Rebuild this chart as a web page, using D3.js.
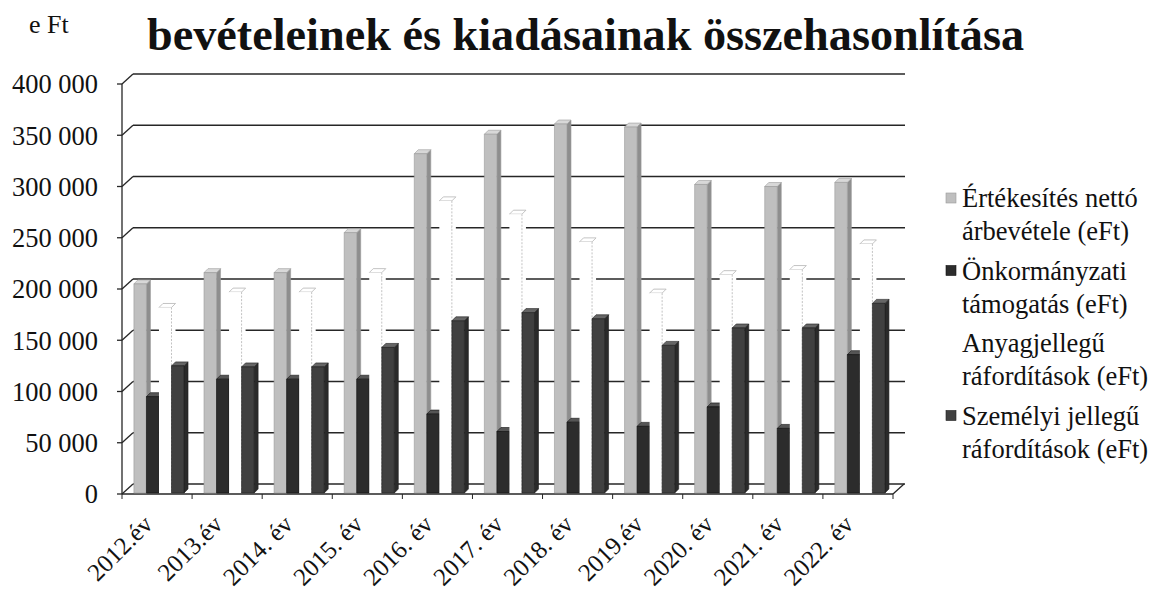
<!DOCTYPE html>
<html>
<head>
<meta charset="utf-8">
<script src="https://cdn.jsdelivr.net/npm/d3@7"></script>
<style>
  html, body { margin: 0; padding: 0; background: #fff; }
  svg { display: block; }
  text { font-family: "Liberation Serif", "Times New Roman", serif; fill: #111; }
</style>
</head>
<body>
<svg id="chart" width="1153" height="597"></svg>
<script>
// ---- data ----
const categories = ["2012.év", "2013.év", "2014. év", "2015. év", "2016. év", "2017. év",
                    "2018. év", "2019.év", "2020. év", "2021. év", "2022. év"];
const seriesNames = ["Értékesítés nettó árbevétele (eFt)", "Önkormányzati támogatás (eFt)",
                     "Anyagjellegű ráfordítások (eFt)", "Személyi jellegű ráfordítások (eFt)"];
const legendLines = [["Értékesítés nettó", "árbevétele (eFt)"], ["Önkormányzati", "támogatás (eFt)"],
                     ["Anyagjellegű", "ráfordítások (eFt)"], ["Személyi jellegű", "ráfordítások (eFt)"]];
const arbevetel   = [204000, 215000, 215000, 254000, 331000, 350000, 360000, 357000, 301000, 299000, 303000];
const tamogatas   = [94000, 111000, 111000, 111000, 77000, 60000, 69000, 65000, 84000, 63000, 135000];
const anyag       = [181000, 196000, 196000, 215000, 285000, 272000, 245000, 195000, 213000, 218000, 243000];
const szemelyi    = [124000, 123000, 123000, 142000, 168000, 176000, 170000, 144000, 161000, 161000, 185000];
const yTicks = [0, 50000, 100000, 150000, 200000, 250000, 300000, 350000, 400000];
const titleText = "bevételeinek és kiadásainak összehasonlítása";
const unitText = "e Ft";

const seriesValues = [arbevetel, tamogatas, anyag, szemelyi];
const fronts = ["#bfbfbf", "#2c2c2c", "#ffffff", "#404040"];
const sides  = ["#8e8e8e", "#1a1a1a", "#ffffff", "#2a2a2a"];
const tops   = ["#d8d8d8", "#555555", "#ffffff", "#666666"];
const strokes = ["#9a9a9a", "#111111", "#b4b4b4", "#1e1e1e"];

// ---- layout ----
const svg = d3.select("#chart");
const DX = 11, DY = 10;        // wall depth offset
const BD = 4;                  // bar depth
const yBack = d3.scaleLinear().domain([0, 400000]).range([484, 74]);
const yFront = v => yBack(v) + DY;
const x0 = d3.scaleBand().domain(categories).range([122, 893]).padding(0);
const bw = x0.bandwidth();
const x1 = d3.scaleBand().domain(d3.range(4)).range([bw * 0.17, bw * 0.885]).padding(0);
const fmt = v => d3.format(",")(v).replace(/,/g, " ");

// title
svg.append("text").attr("x", 147).attr("y", 50)
  .attr("font-size", 46).attr("font-weight", "bold")
  .attr("textLength", 877).attr("lengthAdjust", "spacingAndGlyphs")
  .text(titleText);
svg.append("text").attr("x", 29).attr("y", 33).attr("font-size", 26)
  .text(unitText);

// back wall gridlines + left wall diagonals
const grid = svg.append("g").attr("stroke", "#262626").attr("stroke-width", 1.3).attr("fill", "none");
yTicks.forEach(t => {
  grid.append("line").attr("x1", 122 + DX).attr("x2", 893 + DX + 1)
    .attr("y1", yBack(t)).attr("y2", yBack(t));
  grid.append("line").attr("x1", 122).attr("x2", 122 + DX)
    .attr("y1", yFront(t)).attr("y2", yBack(t));
  grid.append("line").attr("x1", 117).attr("x2", 122)
    .attr("y1", yFront(t)).attr("y2", yFront(t));
});
// vertical axis
grid.append("line").attr("x1", 122).attr("x2", 122)
  .attr("y1", yFront(400000)).attr("y2", yFront(0));
// floor
grid.append("line").attr("x1", 122).attr("x2", 893).attr("y1", yFront(0)).attr("y2", yFront(0));
grid.append("line").attr("x1", 893).attr("x2", 893 + DX).attr("y1", yFront(0)).attr("y2", yBack(0));
// floor ticks
categories.concat([null]).forEach((c) => {
  const xx = c === null ? 893 : x0(c);
  grid.append("line").attr("x1", xx).attr("x2", xx)
    .attr("y1", yFront(0)).attr("y2", yFront(0) + 5).attr("stroke-width", 1);
});

// y labels
svg.append("g").selectAll("text").data(yTicks).join("text")
  .attr("x", 98).attr("y", d => yFront(d) + 3)
  .attr("text-anchor", "end").attr("dominant-baseline", "middle")
  .attr("font-size", 28)
  .attr("textLength", d => fmt(d).length * 13.2 - (fmt(d).includes(" ") ? 6.5 : 0))
  .attr("lengthAdjust", "spacingAndGlyphs")
  .text(d => fmt(d));

// bars
const bars = svg.append("g");
categories.forEach((c, ci) => {
  seriesValues.forEach((vals, si) => {
    const v = vals[ci];
    const x = x0(c) + x1(si);
    const w = x1.bandwidth();
    const yb = yFront(0) - 1;
    const yt = yFront(v) - 1;
    const g = bars.append("g").attr("stroke", strokes[si]).attr("stroke-width", si === 2 ? 0.8 : 0.6)
      .attr("stroke-linejoin", "round");
    g.append("polygon")
      .attr("points", [[x + w, yt], [x + w + BD, yt - BD], [x + w + BD, yb - BD], [x + w, yb]].join(" "))
      .attr("fill", sides[si]).attr("stroke", si === 2 ? "none" : strokes[si]);
    g.append("polygon")
      .attr("points", [[x, yt], [x + BD, yt - BD], [x + w + BD, yt - BD], [x + w, yt]].join(" "))
      .attr("fill", tops[si]);
    g.append("rect").attr("x", x).attr("y", yt).attr("width", w).attr("height", yb - yt)
      .attr("fill", fronts[si]).attr("stroke", si === 2 ? "none" : strokes[si]);
    if (si === 2) {
      g.append("line").attr("x1", x + w).attr("x2", x + w).attr("y1", yt).attr("y2", yb)
        .attr("stroke-dasharray", "2,1.5");
    }
  });
});

// x labels
svg.append("g").selectAll("text").data(categories).join("text")
  .attr("transform", d => `translate(${x0(d) + bw / 2 - 3},${526}) rotate(-45)`)
  .attr("text-anchor", "end")
  .attr("font-size", 25)
  .text(d => d);

// legend
const lg = svg.append("g");
seriesNames.forEach((s, i) => {
  const by = 207 + i * 72.5;
  if (i !== 2) {
    lg.append("rect").attr("x", 946).attr("y", by - 14).attr("width", 10).attr("height", 10)
      .attr("fill", fronts[i]).attr("stroke", strokes[i]).attr("stroke-width", 0.6);
  }
  legendLines[i].forEach((ln, li) => {
    lg.append("text").attr("x", 962).attr("y", by + li * 33)
      .attr("font-size", 26.5).text(ln);
  });
});
</script>
</body>
</html>
